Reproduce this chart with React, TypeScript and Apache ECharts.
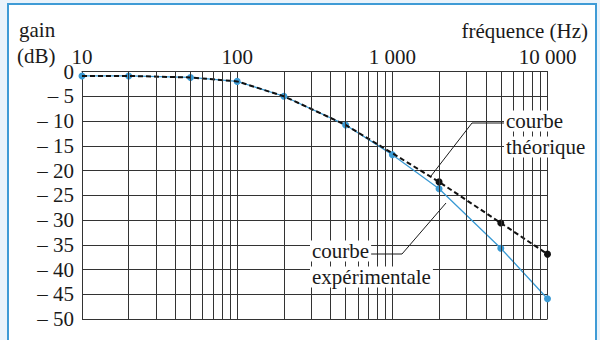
import React, { useEffect, useRef } from "react";
import * as echarts from "echarts";

// Frequencies (Hz) of the measured / computed points
const frequencies = [10, 20, 50, 100, 200, 500, 1000, 2000, 5000, 10000];
// Experimental gain (dB), blue curve
const experimentalGain = [-0.9, -0.9, -1.2, -2.0, -5.0, -10.8, -16.8, -23.7, -35.7, -45.9];
// Theoretical gain (dB), black dashed curve
const theoreticalGain = [-0.9, -0.9, -1.2, -2.0, -5.0, -10.8, -16.5, -22.3, -30.6, -36.9];
// Points of the theoretical curve that carry a marker
const theoreticalMarkedFreqs = [2000, 5000, 10000];
// Minor vertical grid lines (log paper)
const minorGridFreqs = [
  20, 30, 40, 50, 60, 70, 80, 90,
  200, 300, 400, 500, 600, 700, 800, 900,
  2000, 3000, 4000, 5000, 6000, 7000, 8000, 9000,
];
// Axis ranges and tick labels
const xMin = 10;
const xMax = 10000;
const xTickLabels: Record<number, string> = { 10: "10", 100: "100", 1000: "1 000", 10000: "10 000" };
const yMin = -50;
const yMax = 0;
const yInterval = 5;

const FONT = '"Liberation Serif", "Times New Roman", serif';
const TEXT = "#1a1a1a";
const GRID = "#333";
const BLUE = "#3a9ad4";
const FS = 21;

export default function App() {
  const ref = useRef<HTMLDivElement>(null);

  useEffect(() => {
    if (!ref.current) return;
    const chart = echarts.init(ref.current, null, { renderer: "svg" });

    const expData = frequencies.map((f, i) => [f, experimentalGain[i]]);
    const theoData = frequencies.map((f, i) => ({
      value: [f, theoreticalGain[i]],
      symbol: theoreticalMarkedFreqs.includes(f) ? "circle" : "none",
    }));

    const annotFont = `${FS}px ${FONT}`;

    chart.setOption({
      animation: false,
      backgroundColor: "#eaf3fb",
      grid: { left: 82, right: 52.5, top: 71.5, bottom: 21, containLabel: false },
      xAxis: {
        type: "log",
        logBase: 10,
        min: xMin,
        max: xMax,
        position: "top",
        axisLine: { show: true, lineStyle: { color: GRID, width: 1 } },
        axisTick: { show: false },
        splitLine: { show: true, lineStyle: { color: GRID, width: 1 } },
        axisLabel: {
          fontFamily: FONT,
          fontSize: FS,
          color: TEXT,
          margin: 4,
          formatter: (v: number) => xTickLabels[Math.round(v)] ?? "",
        },
      },
      yAxis: {
        type: "value",
        min: yMin,
        max: yMax,
        interval: yInterval,
        axisLine: { show: true, lineStyle: { color: GRID, width: 1 } },
        axisTick: { show: false },
        splitLine: { show: true, lineStyle: { color: GRID, width: 1 } },
        axisLabel: {
          fontFamily: FONT,
          fontSize: FS,
          color: TEXT,
          margin: 8,
          padding: [5, 0, 0, 0],
          formatter: (v: number) => (v === 0 ? "0" : "\u2013 " + Math.abs(v)),
        },
      },
      series: [
        {
          type: "line",
          name: "grid",
          data: [],
          silent: true,
          markLine: {
            silent: true,
            symbol: ["none", "none"],
            label: { show: false },
            lineStyle: { color: GRID, width: 1, type: "solid" },
            data: minorGridFreqs.map((f) => ({ xAxis: f })),
          },
          z: 1,
        },
        {
          type: "line",
          name: "courbe expérimentale",
          data: expData,
          symbol: "circle",
          symbolSize: 7,
          showAllSymbol: true,
          itemStyle: { color: BLUE },
          lineStyle: { color: BLUE, width: 1.3 },
          z: 3,
        },
        {
          type: "line",
          name: "courbe théorique",
          data: theoData,
          symbolSize: 7,
          showAllSymbol: true,
          itemStyle: { color: "#111" },
          lineStyle: { color: "#111", width: 2, type: [5, 3] },
          z: 4,
        },
      ],
      graphic: [
        {
          type: "rect",
          z: -10,
          shape: { x: 8, y: 4, width: 588, height: 360 },
          style: { fill: "#ffffff", stroke: "#3f9bd6", lineWidth: 2 },
        },
        {
          type: "text",
          z: 100,
          x: 19,
          y: 30,
          style: { text: "gain", font: annotFont, fill: TEXT, verticalAlign: "middle" },
        },
        {
          type: "text",
          z: 100,
          x: 17,
          y: 56,
          style: { text: "(dB)", font: annotFont, fill: TEXT, verticalAlign: "middle" },
        },
        {
          type: "text",
          z: 100,
          x: 588,
          y: 31,
          style: { text: "fréquence (Hz)", font: annotFont, fill: TEXT, align: "right", verticalAlign: "middle" },
        },
        {
          type: "polyline",
          z: 100,
          shape: { points: [[506, 123], [472, 123], [431, 176]] },
          style: { stroke: TEXT, lineWidth: 1, fill: null },
        },
        {
          type: "polyline",
          z: 100,
          shape: { points: [[371, 254], [402, 254], [446, 203]] },
          style: { stroke: TEXT, lineWidth: 1, fill: null },
        },
        {
          type: "text",
          z: 100,
          x: 504,
          y: 121,
          style: { text: "courbe", font: annotFont, fill: TEXT, verticalAlign: "middle", backgroundColor: "#fff", padding: [0, 2] },
        },
        {
          type: "text",
          z: 100,
          x: 504,
          y: 147,
          style: { text: "théorique", font: annotFont, fill: TEXT, verticalAlign: "middle", backgroundColor: "#fff", padding: [0, 2] },
        },
        {
          type: "text",
          z: 100,
          x: 310,
          y: 251,
          style: { text: "courbe", font: annotFont, fill: TEXT, verticalAlign: "middle", backgroundColor: "#fff", padding: [0, 2] },
        },
        {
          type: "text",
          z: 100,
          x: 310,
          y: 277,
          style: { text: "expérimentale", font: annotFont, fill: TEXT, verticalAlign: "middle", backgroundColor: "#fff", padding: [0, 2] },
        },
      ],
    });

    return () => chart.dispose();
  }, []);

  return (
    <div
      ref={ref}
      style={{ position: "fixed", left: 0, top: 0, width: 600, height: 340 }}
    />
  );
}
